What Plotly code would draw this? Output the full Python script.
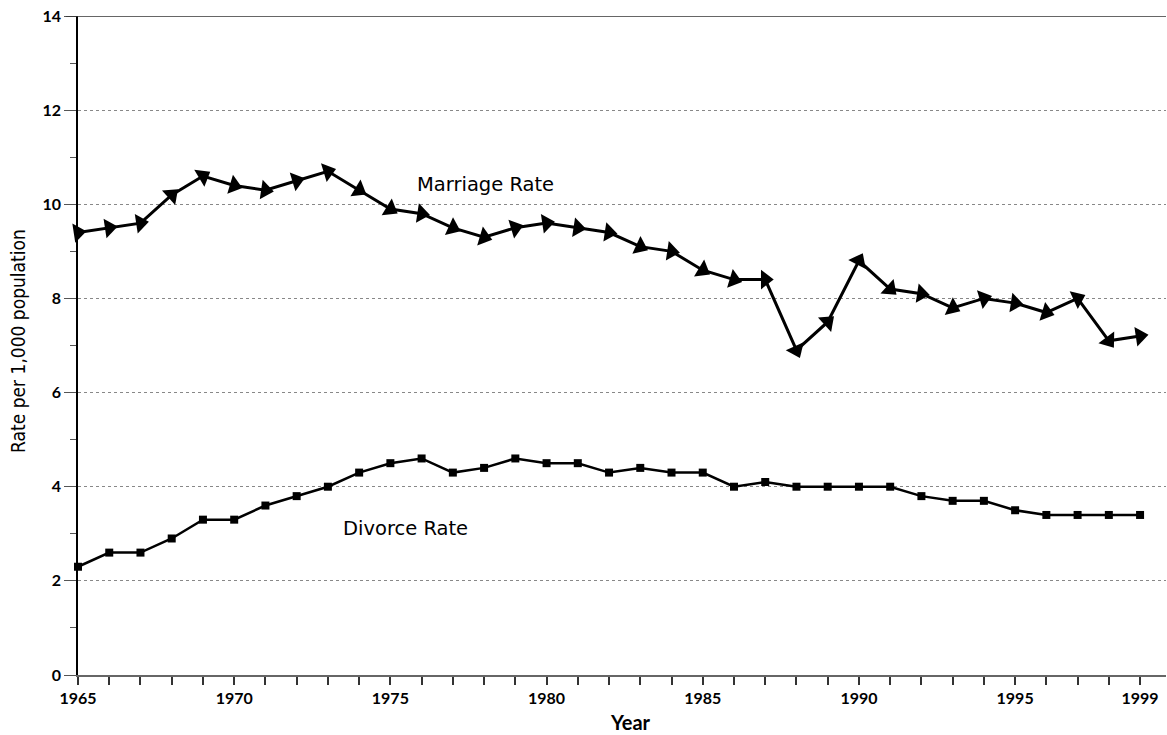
import math
import plotly.graph_objects as go

years = list(range(1965, 2000))
marriage_rate = [9.4, 9.5, 9.6, 10.2, 10.6, 10.4, 10.3, 10.5, 10.7, 10.3,
                 9.9, 9.8, 9.5, 9.3, 9.5, 9.6, 9.5, 9.4, 9.1, 9.0,
                 8.6, 8.4, 8.4, 6.9, 7.5, 8.8, 8.2, 8.1, 7.8, 8.0,
                 7.9, 7.7, 8.0, 7.1, 7.2]
divorce_rate = [2.3, 2.6, 2.6, 2.9, 3.3, 3.3, 3.6, 3.8, 4.0, 4.3,
                4.5, 4.6, 4.3, 4.4, 4.6, 4.5, 4.5, 4.3, 4.4, 4.3,
                4.3, 4.0, 4.1, 4.0, 4.0, 4.0, 4.0, 3.8, 3.7, 3.7,
                3.5, 3.4, 3.4, 3.4, 3.4]
x_tick_vals = [1965, 1970, 1975, 1980, 1985, 1990, 1995, 1999]
y_tick_vals = [0, 2, 4, 6, 8, 10, 12, 14]

W, H = 1167, 735
ML, MR, MT, MB = 78, 1, 16, 60
X_RANGE = [1965, 1999.83]
Y_RANGE = [0, 14]
plot_w = W - ML - MR
plot_h = H - MT - MB
sx = plot_w / (X_RANGE[1] - X_RANGE[0])
sy = plot_h / (Y_RANGE[1] - Y_RANGE[0])

# triangle orientation: follow the direction of travel (clockwise from up)
angles = []
for i in range(len(years)):
    j0, j1 = (i - 1, i) if i > 0 else (0, 1)
    dx = (years[j1] - years[j0]) * sx
    dy = (marriage_rate[j1] - marriage_rate[j0]) * sy
    angles.append(90 - math.degrees(math.atan2(dy, dx)))

tick_font = dict(family="Lato, 'DejaVu Sans', sans-serif", size=16, color="black", weight="bold")
label_font = dict(family="'DejaVu Sans', sans-serif", size=19.5, color="black")

fig = go.Figure()

fig.add_trace(go.Scatter(
    x=years, y=marriage_rate, mode="lines+markers", name="Marriage Rate",
    line=dict(color="black", width=3),
    marker=dict(symbol="triangle-up", size=17, color="black", angle=angles,
                line=dict(width=0)),
    cliponaxis=False, showlegend=False,
))

fig.add_trace(go.Scatter(
    x=years, y=divorce_rate, mode="lines+markers", name="Divorce Rate",
    line=dict(color="black", width=2.5),
    marker=dict(symbol="square", size=8, color="black"),
    cliponaxis=False, showlegend=False,
))

fig.add_annotation(x=1978.05, y=10.42, text="Marriage Rate", showarrow=False,
                   font=label_font, xanchor="center", yanchor="middle")
fig.add_annotation(x=1975.5, y=3.12, text="Divorce Rate", showarrow=False,
                   font=label_font, xanchor="center", yanchor="middle")

# axis titles
fig.add_annotation(xref="paper", yref="paper", x=(630 - ML) / plot_w, y=(H - MB - 722) / plot_h,
                   text="Year", showarrow=False, xanchor="center", yanchor="middle",
                   font=dict(family="Lato, 'DejaVu Sans', sans-serif", size=20,
                             color="black", weight="bold"))
fig.add_annotation(xref="paper", yref="paper", x=(18 - ML) / plot_w, y=0.507,
                   text="Rate per 1,000 population", showarrow=False, textangle=-90,
                   xanchor="center", yanchor="middle",
                   font=dict(family="'Liberation Sans Narrow', 'DejaVu Sans Condensed', sans-serif",
                             size=19, color="black"))

# top border line at 14
fig.add_shape(type="line", xref="paper", yref="y", x0=-12 / plot_w, x1=1, y0=14, y1=14,
              line=dict(color="#333333", width=1.5))

fig.update_xaxes(
    range=X_RANGE, tickvals=x_tick_vals, ticks="outside", ticklen=8,
    tickcolor="#333333", tickwidth=1.5, tickfont=tick_font,
    minor=dict(dtick=1, tick0=1965, ticks="outside", ticklen=8, tickcolor="#333333", tickwidth=1.5),
    showline=True, linecolor="#666666", linewidth=2, showgrid=False, zeroline=False,
    automargin=False,
)
fig.update_yaxes(
    range=Y_RANGE, tickvals=y_tick_vals, ticks="outside", ticklen=12,
    tickcolor="#555555", tickwidth=1, tickfont=tick_font,
    minor=dict(dtick=1, tick0=0, ticks="outside", ticklen=6, tickcolor="#555555",
               tickwidth=1, showgrid=False),
    showline=True, linecolor="black", linewidth=1.5,
    showgrid=True, gridcolor="#888888", griddash="dot", gridwidth=1, zeroline=False,
    automargin=False,
)

fig.update_layout(
    width=W, height=H, plot_bgcolor="white", paper_bgcolor="white",
    margin=dict(l=ML, r=MR, t=MT, b=MB),
)

fig.write_html("out.html", config={"displayModeBar": False},
               post_script="document.body.style.margin='0';")
